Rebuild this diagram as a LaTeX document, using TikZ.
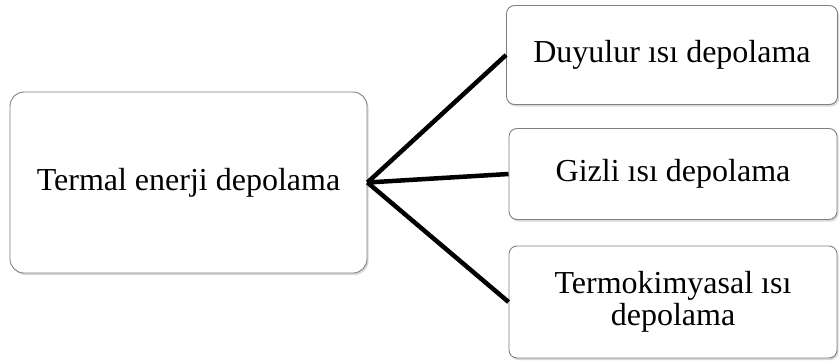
\documentclass[tikz,border=0pt]{standalone}
\usepackage{fontspec}
\setmainfont{Liberation Serif}
\usetikzlibrary{shadows}
\begin{document}
\begin{tikzpicture}[x=1pt,y=-1pt,
  boxbase/.style={draw=black!50, line width=0.9pt, fill=white,
    drop shadow={shadow xshift=1.5pt, shadow yshift=-2pt, opacity=0.25, fill=black!60},
    align=center, inner sep=0pt, font=\fontsize{32}{32}\selectfont},
  mainbox/.style={boxbase, rounded corners=14pt},
  leafbox/.style={boxbase, rounded corners=8pt},
  link/.style={line width=4.5pt, black}]
\useasboundingbox (0,0) rectangle (840,361);
\begin{scope}
\clip (0,0) rectangle (840,361);
\node[mainbox, minimum width=357pt, minimum height=181pt] (root) at (188.5,182.5) {Termal enerji depolama};
\node[leafbox, minimum width=331pt, minimum height=99pt] (a) at (672,55) {Duyulur ısı depolama};
\node[leafbox, minimum width=328pt, minimum height=91pt] (b) at (673,174) {Gizli ısı depolama};
\node[leafbox, minimum width=328pt, minimum height=112pt] (c) at (673,302) {Termokimyasal ısı\\depolama};
\end{scope}
\draw[link] (root.east) -- (a.west);
\draw[link] (root.east) -- (b.west);
\draw[link] (root.east) -- (c.west);
\end{tikzpicture}
\end{document}
